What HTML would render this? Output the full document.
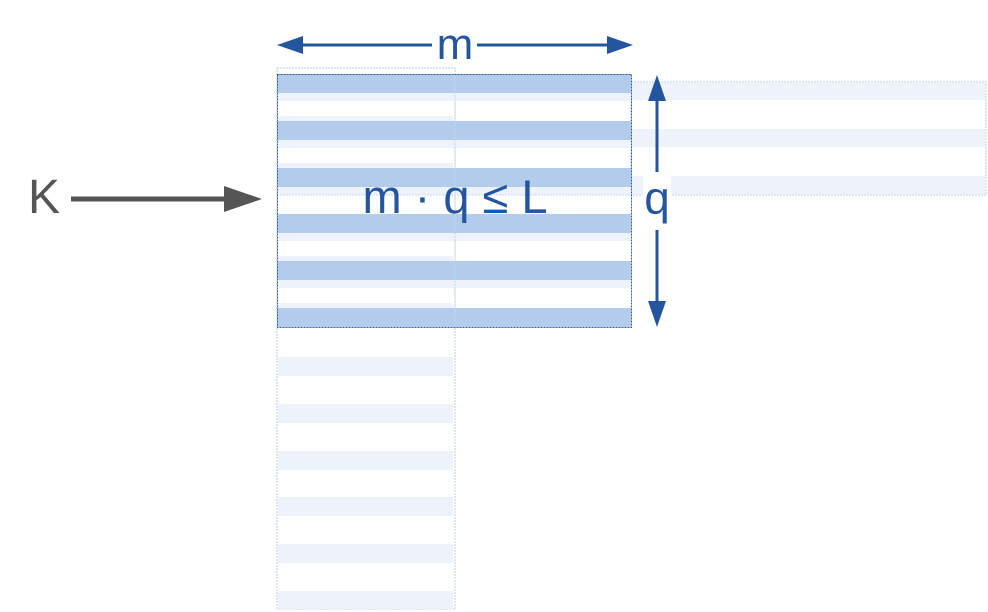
<!DOCTYPE html>
<html><head><meta charset="utf-8"><style>
html,body{margin:0;padding:0;background:#fff;}
svg{display:block;}
text{font-family:"Liberation Sans","DejaVu Sans",sans-serif;}
</style></head><body>
<svg width="988" height="612" viewBox="0 0 988 612" xmlns="http://www.w3.org/2000/svg">
<rect x="631" y="82" width="355" height="113" fill="#fff" stroke="#b8cce6" stroke-width="1" stroke-dasharray="2,1"/>
<rect x="632" y="83" width="353" height="17" fill="#edf2fb"/>
<rect x="632" y="129" width="353" height="18" fill="#edf2fb"/>
<rect x="632" y="176" width="353" height="18" fill="#edf2fb"/>
<rect x="277" y="68" width="178" height="541" fill="#fff" stroke="#b8cce6" stroke-width="1" stroke-dasharray="2,1"/>
<g fill="#edf2fb">
<rect x="278" y="357" width="175" height="19"/>
<rect x="278" y="404" width="175" height="19"/>
<rect x="278" y="451" width="175" height="19"/>
<rect x="278" y="497" width="175" height="19"/>
<rect x="278" y="544" width="175" height="19"/>
<rect x="278" y="591" width="175" height="18"/>
</g>
<g fill="#edf2fb">
<rect x="277" y="93" width="354" height="8"/>
<rect x="277" y="140" width="354" height="8"/>
<rect x="277" y="187" width="354" height="8"/>
<rect x="277" y="233" width="354" height="8"/>
<rect x="277" y="280" width="354" height="8"/>
<rect x="277" y="116" width="176" height="5"/>
<rect x="277" y="163" width="176" height="5"/>
<rect x="277" y="256" width="176" height="5"/>
<rect x="277" y="303" width="176" height="5"/>
</g>
<g fill="#b4ccec">
<rect x="277" y="74" width="354" height="19"/>
<rect x="277" y="121" width="354" height="19"/>
<rect x="277" y="168" width="354" height="19"/>
<rect x="277" y="214" width="354" height="19"/>
<rect x="277" y="261" width="354" height="19"/>
<rect x="277" y="308" width="354" height="19"/>
</g>
<line x1="455" y1="74" x2="455" y2="327" stroke="#c8d8ee" stroke-width="1" stroke-dasharray="2,1"/>
<line x1="277" y1="195" x2="631" y2="195" stroke="#c8d8ee" stroke-width="1" stroke-dasharray="2,1"/>
<rect x="277.5" y="74.5" width="354" height="253" fill="none" stroke="#2d5a96" stroke-width="1" stroke-dasharray="2,1"/>
<line x1="300" y1="45" x2="432" y2="45" stroke="#2456a0" stroke-width="3"/>
<line x1="477" y1="45" x2="610" y2="45" stroke="#2456a0" stroke-width="3"/>
<polygon points="277,45 303,36 303,54" fill="#2456a0"/>
<polygon points="633,45 607,36 607,54" fill="#2456a0"/>
<text x="455" y="59" font-size="44" fill="#2456a0" text-anchor="middle">m</text>
<line x1="657" y1="98" x2="657" y2="172" stroke="#2456a0" stroke-width="3"/>
<line x1="657" y1="230" x2="657" y2="305" stroke="#2456a0" stroke-width="3"/>
<polygon points="657,75 648,101 666,101" fill="#2456a0"/>
<polygon points="657,327 648,301 666,301" fill="#2456a0"/>
<rect x="643" y="176" width="28" height="54" fill="#fff"/>
<text x="657" y="214" font-size="46" fill="#2456a0" text-anchor="middle">q</text>
<text x="455" y="213" font-size="47" fill="#2456a0" text-anchor="middle">m · q ≤ L</text>
<text x="28" y="213" font-size="48" fill="#555">K</text>
<line x1="71" y1="199" x2="228" y2="199" stroke="#555" stroke-width="5"/>
<polygon points="262,199 224,186 224,212" fill="#555"/>
</svg>
</body></html>
